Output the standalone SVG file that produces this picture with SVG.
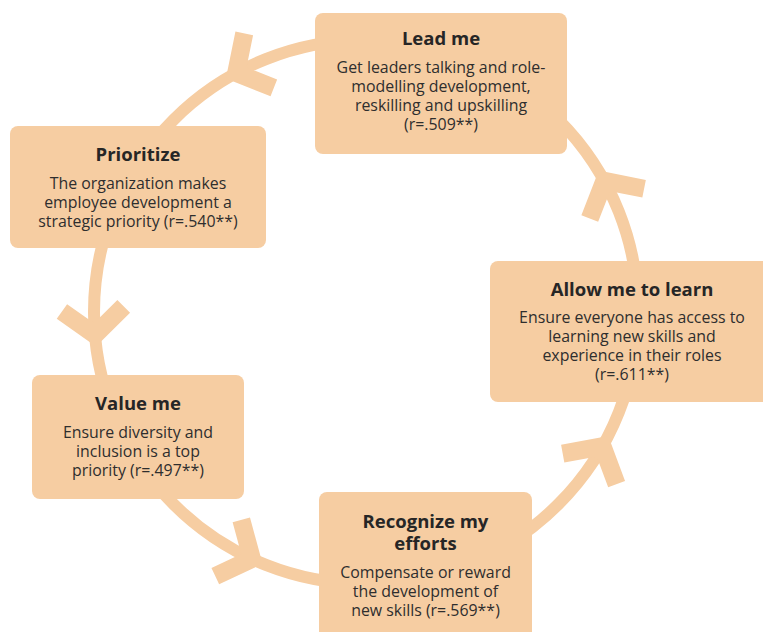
<svg xmlns="http://www.w3.org/2000/svg" width="763" height="632" viewBox="0 0 763 632">
  <defs>
    <style>
      .ring { fill: none; stroke: #F6CDA2; stroke-width: 12; }
      .chev { fill: none; stroke: #F6CDA2; stroke-width: 18; stroke-linejoin: miter; stroke-miterlimit: 10; stroke-linecap: butt; }
      .box { fill: #F6CDA2; }
      .title { font-family: "Open Sans", "Noto Sans", sans-serif; font-weight: 700; font-size: 18.5px; fill: #262626; text-anchor: middle; }
      .body { font-family: "Open Sans", "Noto Sans", sans-serif; font-size: 15.9px; fill: #2e2e2e; text-anchor: middle; }
    </style>
    <polyline id="chevron" class="chev" points="-26,-31 0,0 -26,31"/>
  </defs>

  <rect width="763" height="632" fill="#ffffff"/>

  <!-- cycle ring with direction chevrons -->
  <g id="connectors">
    <circle class="ring" cx="366" cy="312" r="272"/>
    <use href="#chevron" transform="translate(236.2,73) rotate(151.5)"/>
    <use href="#chevron" transform="translate(95,334.8) rotate(85.2)"/>
    <use href="#chevron" transform="translate(251.9,558.9) rotate(24.8)"/>
    <use href="#chevron" transform="translate(602.5,446.3) rotate(-60.4)"/>
    <use href="#chevron" transform="translate(604.4,180.9) rotate(241.2)"/>
  </g>

  <g id="lead-me">
    <rect class="box" x="315" y="13" width="252" height="141" rx="8"/>
    <text class="title" x="441" y="45">Lead me</text>
    <text class="body" x="441" y="73">Get leaders talking and role-</text>
    <text class="body" x="441" y="92">modelling development,</text>
    <text class="body" x="441" y="111">reskilling and upskilling</text>
    <text class="body" x="441" y="130">(r=.509**)</text>
  </g>

  <g id="prioritize">
    <rect class="box" x="10" y="126" width="256" height="122" rx="8"/>
    <text class="title" x="138" y="161">Prioritize</text>
    <text class="body" x="138" y="189">The organization makes</text>
    <text class="body" x="138" y="208">employee development a</text>
    <text class="body" x="138" y="227">strategic priority (r=.540**)</text>
  </g>

  <g id="allow-me-to-learn">
    <rect class="box" x="490" y="261" width="284" height="141" rx="8"/>
    <text class="title" x="632" y="296">Allow me to learn</text>
    <text class="body" x="632" y="323">Ensure everyone has access to</text>
    <text class="body" x="632" y="342">learning new skills and</text>
    <text class="body" x="632" y="361">experience in their roles</text>
    <text class="body" x="632" y="380">(r=.611**)</text>
  </g>

  <g id="value-me">
    <rect class="box" x="32" y="375" width="212" height="124" rx="8"/>
    <text class="title" x="138" y="410">Value me</text>
    <text class="body" x="138" y="438">Ensure diversity and</text>
    <text class="body" x="138" y="457">inclusion is a top</text>
    <text class="body" x="138" y="476">priority (r=.497**)</text>
  </g>

  <g id="recognize-my-efforts">
    <rect class="box" x="319" y="492" width="213" height="150" rx="8"/>
    <text class="title" x="425.5" y="528">Recognize my</text>
    <text class="title" x="425.5" y="550">efforts</text>
    <text class="body" x="425.5" y="578">Compensate or reward</text>
    <text class="body" x="425.5" y="597">the development of</text>
    <text class="body" x="425.5" y="616">new skills (r=.569**)</text>
  </g>
</svg>
